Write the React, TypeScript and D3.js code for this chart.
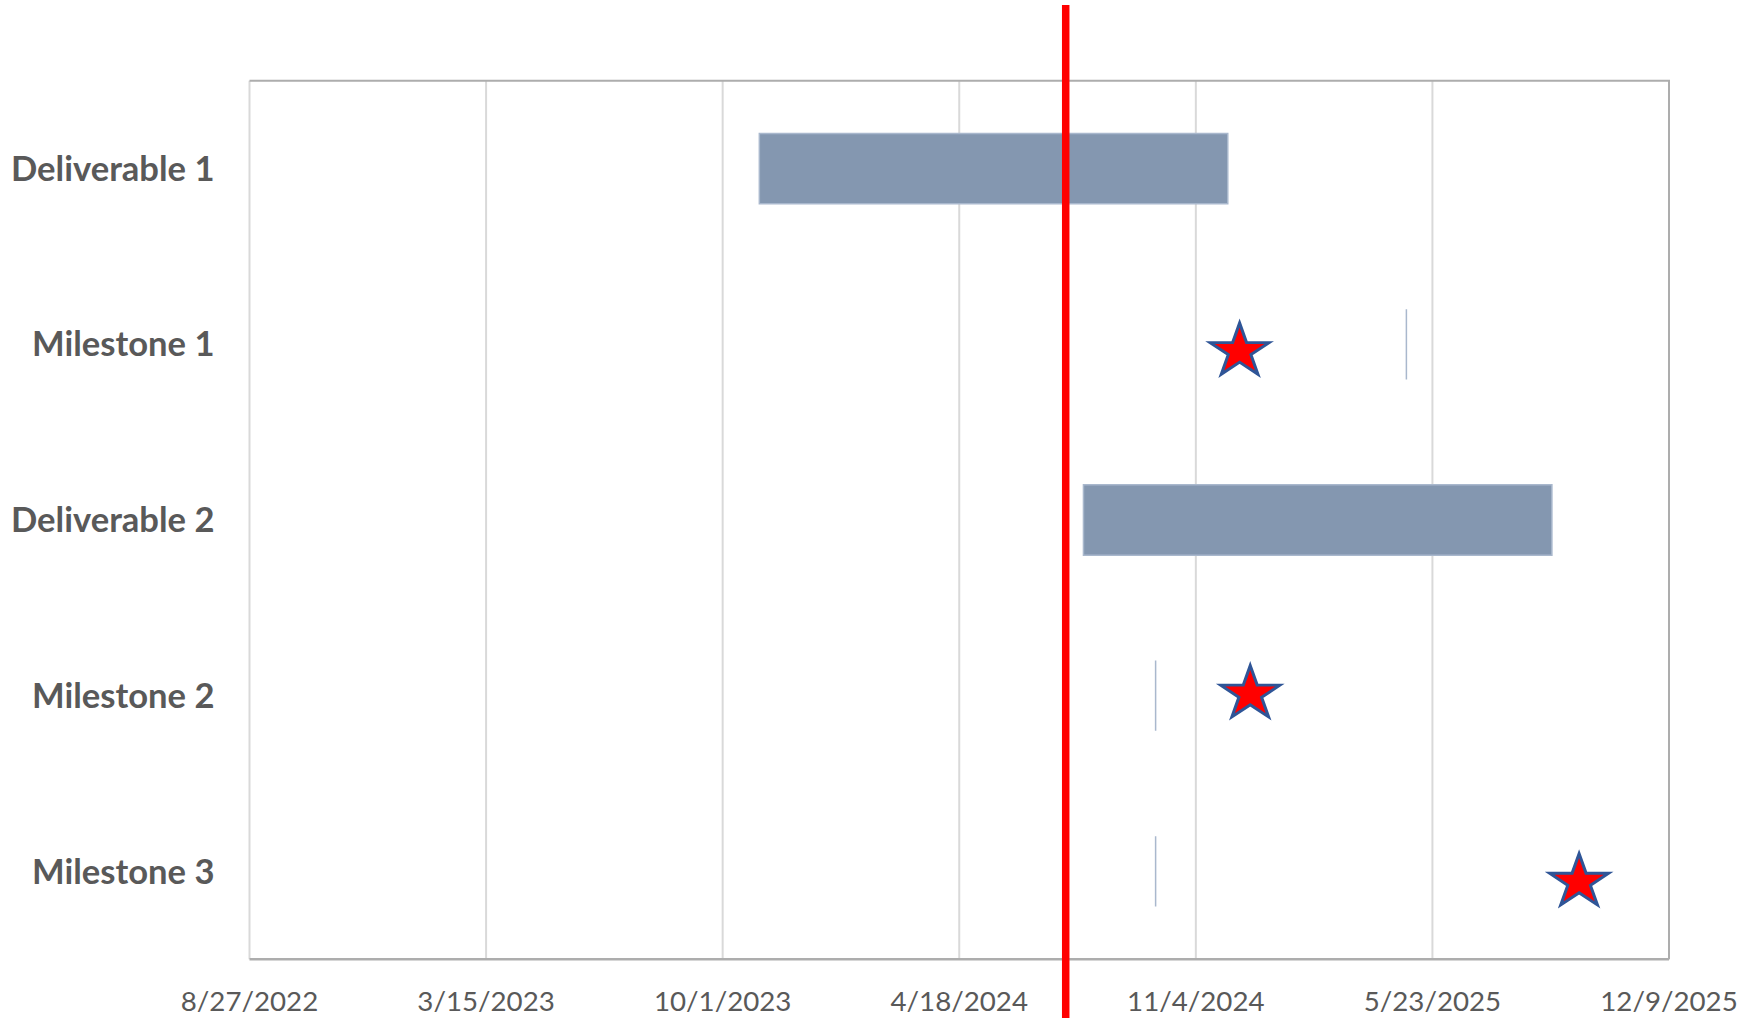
import React, { useEffect, useRef } from 'react';
import * as d3 from 'd3';

// Gantt data
const TASKS = ['Deliverable 1', 'Milestone 1', 'Deliverable 2', 'Milestone 2', 'Milestone 3'];
const START_DATES = ['11/1/2023', '5/1/2025', '8/1/2024', '10/1/2024', '10/1/2024'];
const DURATION_DAYS = [396, 0, 396, 0, 0];

// Milestone stars (y on a 0..5 secondary scale)
const MILESTONE_DATES = ['12/11/2024', '12/20/2024', '9/24/2025'];
const MILESTONE_Y = [3.46, 1.51, 0.44];

const TODAY = '7/17/2024';

const TICK_LABELS = ['8/27/2022', '3/15/2023', '10/1/2023', '4/18/2024', '11/4/2024', '5/23/2025', '12/9/2025'];

const W = 1758;
const H = 1018;
const margin = { top: 80.7, right: W - 1669, bottom: H - 959.3, left: 249.5 };

const parse = d3.utcParse('%m/%d/%Y');
const fmt = d3.utcFormat('%-m/%-d/%Y');

const drawChart = (svgEl: SVGSVGElement) => {
  const svg = d3.select(svgEl);
  svg.selectAll('*').remove();

  const ticks = TICK_LABELS.map(t => parse(t) as Date);
  const x = d3.scaleUtc()
    .domain([ticks[0], ticks[ticks.length - 1]])
    .range([margin.left, W - margin.right]);

  const y = d3.scaleBand()
    .domain(TASKS)
    .range([margin.top, H - margin.bottom])
    .paddingInner(0.6)
    .paddingOuter(0.3);

  const y2 = d3.scaleLinear()
    .domain([0, 5])
    .range([H - margin.bottom, margin.top]);

  // gridlines
  svg.append('g')
    .selectAll('line')
    .data(ticks)
    .enter().append('line')
    .attr('x1', d => x(d))
    .attr('x2', d => x(d))
    .attr('y1', margin.top)
    .attr('y2', H - margin.bottom)
    .attr('stroke', '#D9D9D9')
    .attr('stroke-width', 2);

  // plot border (top/right) and bottom axis line
  const x0 = margin.left, x1 = W - margin.right;
  const yTop = margin.top, yBot = H - margin.bottom;
  svg.append('path')
    .attr('d', `M${x0},${yTop}H${x1}V${yBot}`)
    .attr('fill', 'none')
    .attr('stroke', '#ADADAD')
    .attr('stroke-width', 2);
  svg.append('line')
    .attr('x1', x0).attr('x2', x1)
    .attr('y1', yBot).attr('y2', yBot)
    .attr('stroke', '#ADADAD')
    .attr('stroke-width', 2.5);

  // bars (zero-length milestones still show their border)
  const bars = TASKS.map((name, i) => {
    const s = parse(START_DATES[i]) as Date;
    return { name, start: s, end: d3.utcDay.offset(s, DURATION_DAYS[i]) };
  });
  svg.append('g')
    .selectAll('path')
    .data(bars)
    .enter().append('path')
    .attr('d', d => {
      const p = d3.path();
      p.rect(x(d.start), y(d.name)!, x(d.end) - x(d.start), y.bandwidth());
      return p.toString();
    })
    .attr('fill', '#8497B0')
    .attr('stroke', '#A9B8CD')
    .attr('stroke-width', 1.5);

  // category labels
  svg.append('g')
    .selectAll('text')
    .data(TASKS)
    .enter().append('text')
    .attr('x', margin.left - 35)
    .attr('y', d => y(d)! + y.bandwidth() / 2)
    .attr('dy', '0.35em')
    .attr('text-anchor', 'end')
    .attr('font-family', 'Lato, "Open Sans", sans-serif')
    .attr('font-weight', 'bold')
    .attr('font-size', 34.6)
    .attr('fill', '#595959')
    .text(d => d);

  // tick labels
  svg.append('g')
    .selectAll('text')
    .data(ticks)
    .enter().append('text')
    .attr('x', d => x(d))
    .attr('y', yBot + 51.5)
    .attr('text-anchor', 'middle')
    .attr('font-family', 'Lato, "Open Sans", sans-serif')
    .attr('font-size', 27.7)
    .attr('fill', '#595959')
    .text(d => fmt(d));

  // today line
  const today = parse(TODAY) as Date;
  svg.append('line')
    .attr('x1', x(today)).attr('x2', x(today))
    .attr('y1', 5).attr('y2', H)
    .attr('stroke', '#FF0000')
    .attr('stroke-width', 7.5);

  // milestone stars
  const star = d3.symbol().type(d3.symbolStar).size(900);
  svg.append('g')
    .selectAll('path')
    .data(MILESTONE_DATES.map((d, i) => ({ date: parse(d) as Date, v: MILESTONE_Y[i] })))
    .enter().append('path')
    .attr('d', star()!)
    .attr('transform', d => `translate(${x(d.date)},${y2(d.v)}) scale(1.1,1)`)
    .attr('fill', '#FF0000')
    .attr('stroke', '#2F5597')
    .attr('stroke-width', 2.8)
    .attr('stroke-linejoin', 'miter');
};

export default function App() {
  const ref = useRef<SVGSVGElement>(null);

  useEffect(() => {
    if (ref.current) drawChart(ref.current);
  }, []);

  return (
    <svg
      ref={ref}
      width={W}
      height={H}
      style={{ position: 'absolute', left: 0, top: 0, background: 'white' }}
    />
  );
}
